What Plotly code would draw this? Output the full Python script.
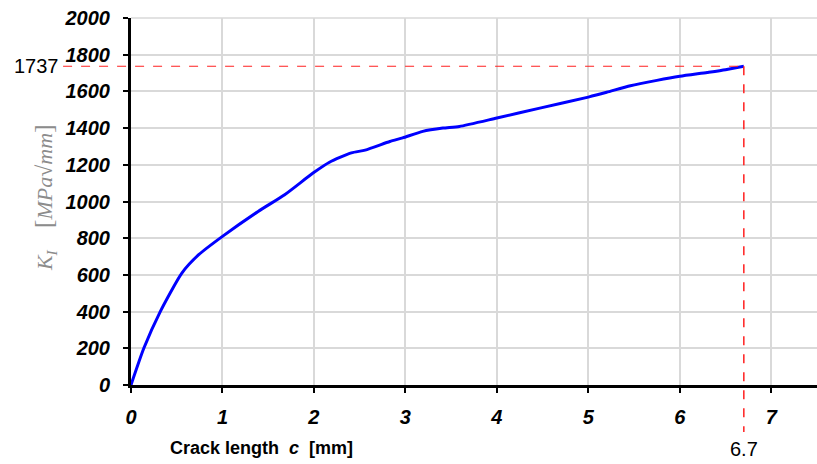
import plotly.graph_objects as go

# Data
crack_len = [0, 0.14, 0.32, 0.556, 0.74, 1.0, 1.39, 1.68, 1.99, 2.17, 2.41, 2.56, 2.83,
             2.97, 3.19, 3.41, 3.59, 4.0, 4.47, 5.0, 5.2, 5.46, 5.75, 6.0, 6.3, 6.5, 6.7]
k1_vals = [0, 200, 400, 610, 710, 810, 946, 1037, 1155, 1214, 1265, 1280, 1327,
           1347, 1382, 1400, 1409, 1455, 1509, 1569, 1595, 1631, 1660, 1682, 1703, 1718, 1737]

x_ticks = [0, 1, 2, 3, 4, 5, 6, 7]
y_ticks = [0, 200, 400, 600, 800, 1000, 1200, 1400, 1600, 1800, 2000]
x_range = [0, 7.5]
y_range = [0, 2000]

mark_x = 6.7
mark_y = 1737

fig = go.Figure()
fig.add_trace(go.Scatter(
    x=crack_len, y=k1_vals, mode="lines",
    line=dict(color="#0000ff", width=3, shape="spline", smoothing=0.6),
    showlegend=False, cliponaxis=False, hoverinfo="skip",
))

# paper coordinates from data values
px = (mark_x - x_range[0]) / (x_range[1] - x_range[0])
py = (mark_y - y_range[0]) / (y_range[1] - y_range[0])

# top gridline at the upper limit
fig.add_shape(type="line", xref="paper", yref="paper", x0=0, x1=1, y0=1, y1=1,
              line=dict(color="#d9d9d9", width=1.5), layer="below")

fig.add_shape(type="line", xref="paper", yref="paper", x0=-0.099, x1=px, y0=py, y1=py,
              line=dict(color="#ff2020", width=1.2, dash="dash"))
fig.add_shape(type="line", xref="paper", yref="paper", x0=px, x1=px, y0=py, y1=-0.128,
              line=dict(color="#ff2020", width=1.5, dash="dash"))

fig.add_annotation(x=-0.102, y=py, xref="paper", yref="paper", text=str(mark_y),
                   showarrow=False, xanchor="right", yanchor="middle",
                   font=dict(family="Liberation Sans, Arial", size=20, color="black"))
fig.add_annotation(x=px, y=-0.138, xref="paper", yref="paper", text=str(mark_x),
                   showarrow=False, xanchor="center", yanchor="top",
                   font=dict(family="Liberation Sans, Arial", size=20, color="black"))

fig.add_annotation(x=-0.125, y=0.51, xref="paper", yref="paper",
                   text="<i>K<sub>I</sub></i>    <span style='font-size:26px'>[</span><i>MPa√mm</i><span style='font-size:26px'>]</span>",
                   textangle=-90, showarrow=False, xanchor="center", yanchor="middle",
                   font=dict(family="Liberation Serif, Times New Roman", size=22, color="#8c8c8c"))

fig.add_annotation(x=0.19, y=-0.172, xref="paper", yref="paper",
                   text="<b>Crack length  <i>c</i>  [mm]</b>",
                   showarrow=False, xanchor="center", yanchor="middle",
                   font=dict(family="Liberation Sans, Arial", size=18, color="black"))

fig.update_layout(
    width=817, height=464,
    margin=dict(l=131, r=0, t=18, b=79),
    paper_bgcolor="white", plot_bgcolor="white",
    xaxis=dict(
        range=x_range, tickvals=x_ticks, ticktext=[f"<i><b>{v}</b></i>" for v in x_ticks],
        showgrid=True, gridcolor="#d9d9d9", gridwidth=1.5,
        showline=True, linecolor="black", linewidth=3,
        ticks="outside", ticklen=5, tickwidth=2, tickcolor="black",
        ticklabelstandoff=7, zeroline=False, automargin=False,
        tickfont=dict(family="Liberation Sans, Arial", size=20, color="black"),
    ),
    yaxis=dict(
        range=y_range, tickvals=y_ticks, ticktext=[f"<i><b>{v}</b></i>" for v in y_ticks],
        showgrid=True, gridcolor="#d9d9d9", gridwidth=1.5,
        showline=True, linecolor="black", linewidth=3,
        ticks="outside", ticklen=5, tickwidth=2, tickcolor="black",
        ticklabelstandoff=9, zeroline=False, automargin=False,
        tickfont=dict(family="Liberation Sans, Arial", size=20, color="black"),
    ),
)

fig.write_html("out.html", config={"displayModeBar": False},
               post_script="document.body.style.margin='0';document.body.style.overflow='hidden';")
